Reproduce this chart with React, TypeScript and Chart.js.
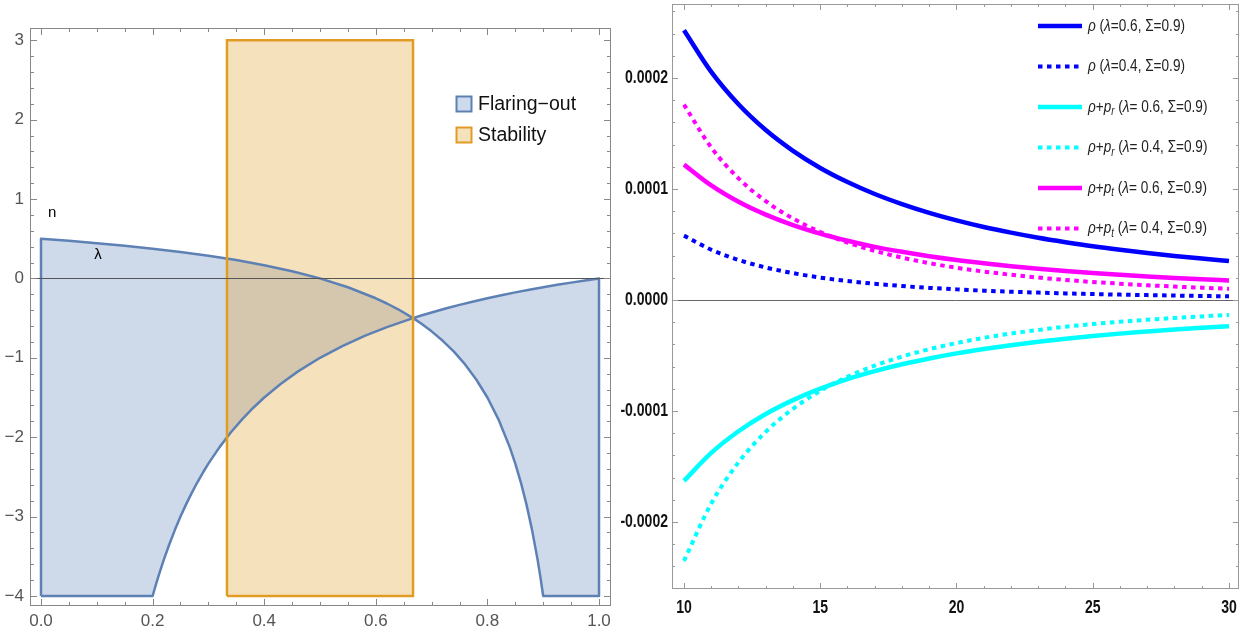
import React, { useEffect, useRef } from 'react';
import { Chart, registerables } from 'chart.js';
Chart.register(...registerables);

// ---------------- Left panel data ----------------
const FLARING_X = [0, 0, 0.05, 0.1, 0.15, 0.2, 0.25, 0.3, 0.35, 0.4, 0.45, 0.5, 0.55, 0.6, 0.62, 0.64, 0.6667,
  0.68, 0.7, 0.725, 0.75, 0.775, 0.8, 0.825, 0.85, 0.875, 0.9, 0.925, 0.95, 0.975, 1.0,
  1.0, 0.9, 0.895, 0.89, 0.88, 0.87, 0.86, 0.85, 0.84, 0.82, 0.8, 0.78, 0.76, 0.74, 0.72, 0.7, 0.68, 0.6667,
  0.62, 0.58, 0.54, 0.5, 0.46, 0.43, 0.4, 0.38, 0.36, 0.34, 0.32, 0.3, 0.29, 0.28, 0.27, 0.26, 0.25, 0.24, 0.23, 0.22, 0.215, 0.21, 0.205, 0.2, 0];
const FLARING_Y = [-4, 0.5, 0.474, 0.444, 0.412, 0.375, 0.333, 0.286, 0.231, 0.167, 0.091, 0, -0.111, -0.25, -0.316, -0.389, -0.5,
  -0.471, -0.429, -0.379, -0.333, -0.29, -0.25, -0.212, -0.176, -0.143, -0.111, -0.081, -0.053, -0.026, 0,
  -4, -4, -3.762, -3.545, -3.167, -2.846, -2.571, -2.333, -2.125, -1.778, -1.5, -1.273, -1.083, -0.923, -0.786, -0.667, -0.5625, -0.5,
  -0.613, -0.724, -0.852, -1, -1.174, -1.326, -1.5, -1.632, -1.778, -1.941, -2.125, -2.333, -2.448, -2.571, -2.704, -2.846, -3, -3.167, -3.348, -3.545, -3.651, -3.762, -3.878, -4, -4];
const STABILITY_X = [0.3333, 0.3333, 0.6667, 0.6667, 0.3333];
const STABILITY_Y = [-4, 3, 3, -4, -4];
const LEFT_LABELS = ['Flaring−out', 'Stability'];
const L_X_TICKS = [0, 0.2, 0.4, 0.6, 0.8, 1.0];
const L_Y_TICKS = [-4, -3, -2, -1, 0, 1, 2, 3];
const L_ANNOT = [{ text: 'n', x: 0.02, y: 0.83 }, { text: 'λ', x: 0.102, y: 0.3 }];

// ---------------- Right panel data ----------------
const R_X = [10, 11, 12, 13, 14, 15, 16, 17, 18, 19, 20, 21, 22, 23, 24, 25, 26, 27, 28, 29, 30];
const RHO_L06 = [2.43e-4, 2.055e-4, 1.763e-4, 1.531e-4, 1.344e-4, 1.19e-4, 1.063e-4, 0.955e-4, 0.864e-4, 0.785e-4, 0.717e-4,
  0.658e-4, 0.607e-4, 0.561e-4, 0.521e-4, 0.484e-4, 0.452e-4, 0.423e-4, 0.397e-4, 0.373e-4, 0.351e-4];
const RHO_L04 = [0.58e-4, 0.453e-4, 0.361e-4, 0.293e-4, 0.242e-4, 0.202e-4, 0.171e-4, 0.146e-4, 0.126e-4, 0.109e-4, 0.0957e-4,
  0.0843e-4, 0.0747e-4, 0.0665e-4, 0.0596e-4, 0.0535e-4, 0.0484e-4, 0.0439e-4, 0.0399e-4, 0.0364e-4, 0.0333e-4];
const RPR_L06 = [-1.63e-4, -1.378e-4, -1.183e-4, -1.027e-4, -0.902e-4, -0.799e-4, -0.713e-4, -0.641e-4, -0.579e-4, -0.527e-4, -0.481e-4,
  -0.442e-4, -0.407e-4, -0.376e-4, -0.349e-4, -0.325e-4, -0.303e-4, -0.284e-4, -0.266e-4, -0.25e-4, -0.236e-4];
const RPR_L04 = [-2.35e-4, -1.834e-4, -1.463e-4, -1.188e-4, -0.98e-4, -0.819e-4, -0.692e-4, -0.591e-4, -0.51e-4, -0.443e-4, -0.388e-4,
  -0.341e-4, -0.302e-4, -0.27e-4, -0.241e-4, -0.217e-4, -0.196e-4, -0.178e-4, -0.162e-4, -0.148e-4, -0.135e-4];
const RPT_L06 = [1.22e-4, 1.032e-4, 0.885e-4, 0.769e-4, 0.675e-4, 0.598e-4, 0.534e-4, 0.479e-4, 0.434e-4, 0.394e-4, 0.36e-4,
  0.331e-4, 0.305e-4, 0.282e-4, 0.261e-4, 0.243e-4, 0.227e-4, 0.212e-4, 0.199e-4, 0.187e-4, 0.176e-4];
const RPT_L04 = [1.76e-4, 1.374e-4, 1.096e-4, 0.89e-4, 0.734e-4, 0.613e-4, 0.518e-4, 0.443e-4, 0.382e-4, 0.332e-4, 0.29e-4,
  0.256e-4, 0.227e-4, 0.202e-4, 0.181e-4, 0.162e-4, 0.147e-4, 0.133e-4, 0.121e-4, 0.111e-4, 0.101e-4];
const R_X_TICKS = [10, 15, 20, 25, 30];
const R_Y_TICKS = [-0.0002, -0.0001, 0, 0.0001, 0.0002];

type Seg = { t: string; it?: boolean; sub?: boolean };
const R_LEGEND: Seg[][] = [
  [{ t: 'ρ', it: true }, { t: ' (' }, { t: 'λ', it: true }, { t: '=0.6, Σ=0.9)' }],
  [{ t: 'ρ', it: true }, { t: ' (' }, { t: 'λ', it: true }, { t: '=0.4, Σ=0.9)' }],
  [{ t: 'ρ', it: true }, { t: '+' }, { t: 'p', it: true }, { t: 'r', it: true, sub: true }, { t: ' (' }, { t: 'λ', it: true }, { t: '= 0.6, Σ=0.9)' }],
  [{ t: 'ρ', it: true }, { t: '+' }, { t: 'p', it: true }, { t: 'r', it: true, sub: true }, { t: ' (' }, { t: 'λ', it: true }, { t: '= 0.4, Σ=0.9)' }],
  [{ t: 'ρ', it: true }, { t: '+' }, { t: 'p', it: true }, { t: 't', it: true, sub: true }, { t: ' (' }, { t: 'λ', it: true }, { t: '= 0.6, Σ=0.9)' }],
  [{ t: 'ρ', it: true }, { t: '+' }, { t: 'p', it: true }, { t: 't', it: true, sub: true }, { t: ' (' }, { t: 'λ', it: true }, { t: '= 0.4, Σ=0.9)' }],
];

const SANS = "'Liberation Sans', Arial, sans-serif";
const SQUEEZE = 0.8;

const pts = (xs: number[], ys: number[]) => xs.map((x, i) => ({ x, y: ys[i] }));

function range(a: number, b: number, step: number) {
  const out: number[] = [];
  const n = Math.round((b - a) / step);
  for (let i = 0; i <= n; i++) out.push(+(a + i * step).toFixed(6));
  return out;
}

function drawSqueezed(ctx: any, text: string, x: number, y: number, align: string, sx: number) {
  ctx.save();
  ctx.translate(x, y);
  ctx.scale(sx, 1);
  ctx.textAlign = align;
  ctx.fillText(text, 0, 0);
  ctx.restore();
}

function framePlugin(cfg: any) {
  return {
    id: 'frameTicks',
    afterDatasetsDraw(chart: any) {
      const { ctx, chartArea: a } = chart;
      const xs = chart.scales.x, ys = chart.scales.y;
      ctx.save();
      ctx.lineWidth = 1;
      const y0 = Math.round(ys.getPixelForValue(0)) + 0.5;
      ctx.strokeStyle = cfg.zeroColor;
      ctx.beginPath(); ctx.moveTo(a.left, y0); ctx.lineTo(a.right, y0); ctx.stroke();
      ctx.strokeStyle = cfg.color;
      ctx.strokeRect(Math.round(a.left) + 0.5, Math.round(a.top) + 0.5, Math.round(a.width) - 1, Math.round(a.height) - 1);
      const drawX = (v: number, len: number) => {
        const px = Math.round(xs.getPixelForValue(v)) + 0.5;
        if (px < a.left || px > a.right) return;
        ctx.beginPath();
        ctx.moveTo(px, a.bottom); ctx.lineTo(px, a.bottom - len);
        ctx.moveTo(px, a.top); ctx.lineTo(px, a.top + len);
        ctx.stroke();
      };
      const drawY = (v: number, len: number) => {
        const py = Math.round(ys.getPixelForValue(v)) + 0.5;
        if (py < a.top || py > a.bottom) return;
        ctx.beginPath();
        ctx.moveTo(a.left, py); ctx.lineTo(a.left + len, py);
        ctx.moveTo(a.right, py); ctx.lineTo(a.right - len, py);
        ctx.stroke();
      };
      cfg.xMinor.forEach((v: number) => drawX(v, cfg.minorLen));
      cfg.yMinor.forEach((v: number) => drawY(v, cfg.minorLen));
      cfg.xMajor.forEach((v: number) => drawX(v, cfg.majorLen));
      cfg.yMajor.forEach((v: number) => drawY(v, cfg.majorLen));
      ctx.restore();
    },
  };
}

const polyFillPlugin = {
  id: 'polyFill',
  beforeDatasetsDraw(chart: any) {
    const ctx = chart.ctx;
    const a = chart.chartArea;
    const idx = chart.data.datasets.map((_: any, i: number) => i)
      .sort((i: number, j: number) => (chart.data.datasets[j].order || 0) - (chart.data.datasets[i].order || 0));
    ctx.save();
    ctx.beginPath(); ctx.rect(a.left, a.top, a.width, a.height); ctx.clip();
    idx.forEach((i: number) => {
      const ds = chart.data.datasets[i];
      const meta = chart.getDatasetMeta(i);
      ctx.beginPath();
      meta.data.forEach((p: any, j: number) => (j ? ctx.lineTo(p.x, p.y) : ctx.moveTo(p.x, p.y)));
      ctx.closePath();
      ctx.fillStyle = ds.polyColor;
      ctx.fill();
    });
    ctx.restore();
  },
};

const leftDecorPlugin = {
  id: 'leftDecor',
  afterDraw(chart: any) {
    const ctx = chart.ctx;
    const xs = chart.scales.x, ys = chart.scales.y;
    ctx.save();
    ctx.fillStyle = '#000';
    ctx.font = `15px ${SANS}`;
    ctx.textAlign = 'center';
    ctx.textBaseline = 'middle';
    L_ANNOT.forEach((an) => ctx.fillText(an.text, xs.getPixelForValue(an.x), ys.getPixelForValue(an.y)));
    const items = [
      { ds: chart.data.datasets[1], y: 104 },
      { ds: chart.data.datasets[0], y: 135 },
    ];
    ctx.textAlign = 'left';
    ctx.font = `19.5px ${SANS}`;
    items.forEach((it) => {
      ctx.fillStyle = '#fff';
      ctx.fillRect(456.5, it.y - 7.5, 15, 15);
      ctx.fillStyle = it.ds.polyColor;
      ctx.fillRect(456.5, it.y - 7.5, 15, 15);
      ctx.strokeStyle = it.ds.borderColor;
      ctx.lineWidth = 2;
      ctx.strokeRect(456.5, it.y - 7.5, 15, 15);
      ctx.fillStyle = '#111';
      ctx.fillText(it.ds.label, 478, it.y + 1);
    });
    ctx.restore();
  },
};

const rightLabelsPlugin = {
  id: 'rightLabels',
  afterDraw(chart: any) {
    const ctx = chart.ctx;
    const a = chart.chartArea;
    const xs = chart.scales.x, ys = chart.scales.y;
    ctx.save();
    ctx.fillStyle = '#111';
    ctx.textBaseline = 'middle';
    ctx.font = `bold 18px ${SANS}`;
    ys.ticks.forEach((t: any) => {
      const v = t.value;
      const label = (v < 0 ? '-' : '') + Math.abs(v).toFixed(4);
      drawSqueezed(ctx, label, a.left - 4, ys.getPixelForValue(v), 'right', 0.78);
    });
    xs.ticks.forEach((t: any) => {
      drawSqueezed(ctx, String(t.value), xs.getPixelForValue(t.value), a.bottom + 19, 'center', 0.78);
    });
    // legend
    R_LEGEND.forEach((segs, i) => {
      const ds = chart.data.datasets[i];
      const y = 26 + i * 40.5;
      ctx.strokeStyle = ds.borderColor;
      ctx.lineWidth = ds.borderWidth;
      ctx.setLineDash(ds.borderDash || []);
      ctx.beginPath(); ctx.moveTo(418, y); ctx.lineTo(462, y); ctx.stroke();
      ctx.setLineDash([]);
      let x = 468;
      ctx.fillStyle = '#222';
      segs.forEach((s) => {
        ctx.font = `${s.it ? 'italic ' : ''}${s.sub ? 12 : 17}px ${SANS}`;
        drawSqueezed(ctx, s.t, x, y + (s.sub ? 5 : 0), 'left', SQUEEZE);
        x += ctx.measureText(s.t).width * SQUEEZE;
      });
    });
    ctx.restore();
  },
};

function LeftChart() {
  const ref = useRef<HTMLCanvasElement>(null);
  useEffect(() => {
    const chart = new Chart(ref.current as HTMLCanvasElement, {
      type: 'scatter',
      data: {
        datasets: [
          { label: LEFT_LABELS[1], data: pts(STABILITY_X, STABILITY_Y), showLine: true, pointRadius: 0, borderColor: '#E19C24', borderWidth: 2.5, fill: false, order: 1, polyColor: 'rgba(225,156,36,0.3)' } as any,
          { label: LEFT_LABELS[0], data: pts(FLARING_X, FLARING_Y), showLine: true, pointRadius: 0, borderColor: '#5E81B5', borderWidth: 2.5, fill: false, order: 2, borderJoinStyle: 'round', polyColor: 'rgba(94,129,181,0.3)' } as any,
        ],
      },
      options: {
        animation: false,
        responsive: false,
        layout: { padding: { top: 28, right: 9, left: 0, bottom: 0 } },
        plugins: { legend: { display: false }, tooltip: { enabled: false } },
        scales: {
          x: {
            type: 'linear', min: -0.0197, max: 1.0215,
            grid: { display: false, drawTicks: false }, border: { display: false },
            ticks: { color: '#555', font: { family: SANS, size: 17 }, padding: 5, maxRotation: 0, callback: (v: any) => Number(v).toFixed(1) },
            afterBuildTicks: (s: any) => { s.ticks = L_X_TICKS.map((v) => ({ value: v })); },
            afterFit: (s: any) => { s.height = 29; },
          },
          y: {
            type: 'linear', min: -4.126, max: 3.154,
            grid: { display: false, drawTicks: false }, border: { display: false },
            ticks: { color: '#555', font: { family: SANS, size: 17 }, padding: 6, callback: (v: any) => (v < 0 ? '−' + Math.abs(v) : String(v)) },
            afterBuildTicks: (s: any) => { s.ticks = L_Y_TICKS.map((v) => ({ value: v })); },
            afterFit: (s: any) => { s.width = 30; },
          },
        },
      } as any,
      plugins: [polyFillPlugin, framePlugin({ color: '#888', zeroColor: '#555', xMajor: L_X_TICKS, xMinor: range(0, 1, 0.05), yMajor: L_Y_TICKS, yMinor: range(-4, 3, 0.2), majorLen: 7, minorLen: 4 }), leftDecorPlugin],
    });
    return () => chart.destroy();
  }, []);
  return <canvas ref={ref} width={620} height={635} style={{ position: 'absolute', left: 0, top: 0, width: 620, height: 635 }} />;
}

function RightChart() {
  const ref = useRef<HTMLCanvasElement>(null);
  useEffect(() => {
    const mk = (label: string, ys: number[], color: string, dotted: boolean) => ({
      label, data: pts(R_X, ys), showLine: true, pointRadius: 0, borderColor: color,
      borderWidth: dotted ? 4 : 4.5, borderDash: dotted ? [4.5, 4.5] : undefined, fill: false,
      cubicInterpolationMode: 'monotone', borderCapStyle: 'butt',
    });
    const labels = R_LEGEND.map((segs) => segs.map((s) => s.t).join(''));
    const chart = new Chart(ref.current as HTMLCanvasElement, {
      type: 'scatter',
      data: {
        datasets: [
          mk(labels[0], RHO_L06, '#0000ff', false),
          mk(labels[1], RHO_L04, '#0000ff', true),
          mk(labels[2], RPR_L06, '#00ffff', false),
          mk(labels[3], RPR_L04, '#00ffff', true),
          mk(labels[4], RPT_L06, '#ff00ff', false),
          mk(labels[5], RPT_L04, '#ff00ff', true),
        ] as any,
      },
      options: {
        animation: false,
        responsive: false,
        layout: { padding: { top: 4, right: 8, left: 0, bottom: 0 } },
        plugins: { legend: { display: false }, tooltip: { enabled: false } },
        scales: {
          x: {
            type: 'linear', min: 9.56, max: 30.367,
            grid: { display: false, drawTicks: false }, border: { display: false },
            ticks: { display: false },
            afterBuildTicks: (s: any) => { s.ticks = R_X_TICKS.map((v) => ({ value: v })); },
            afterFit: (s: any) => { s.height = 46; },
          },
          y: {
            type: 'linear', min: -2.604e-4, max: 2.667e-4,
            grid: { display: false, drawTicks: false }, border: { display: false },
            ticks: { display: false },
            afterBuildTicks: (s: any) => { s.ticks = R_Y_TICKS.map((v) => ({ value: v })); },
            afterFit: (s: any) => { s.width = 52; },
          },
        },
      } as any,
      plugins: [framePlugin({ color: '#999', zeroColor: '#666', xMajor: R_X_TICKS, xMinor: range(10, 30, 1), yMajor: R_Y_TICKS, yMinor: range(-0.00026, 0.00026, 0.00002), majorLen: 6, minorLen: 3 }), rightLabelsPlugin],
    });
    return () => chart.destroy();
  }, []);
  return <canvas ref={ref} width={627} height={635} style={{ position: 'absolute', left: 620, top: 0, width: 627, height: 635 }} />;
}

export default function App() {
  return (
    <div style={{ position: 'fixed', left: 0, top: 0, width: 1247, height: 635, background: '#fff', overflow: 'hidden' }}>
      <LeftChart />
      <RightChart />
    </div>
  );
}
